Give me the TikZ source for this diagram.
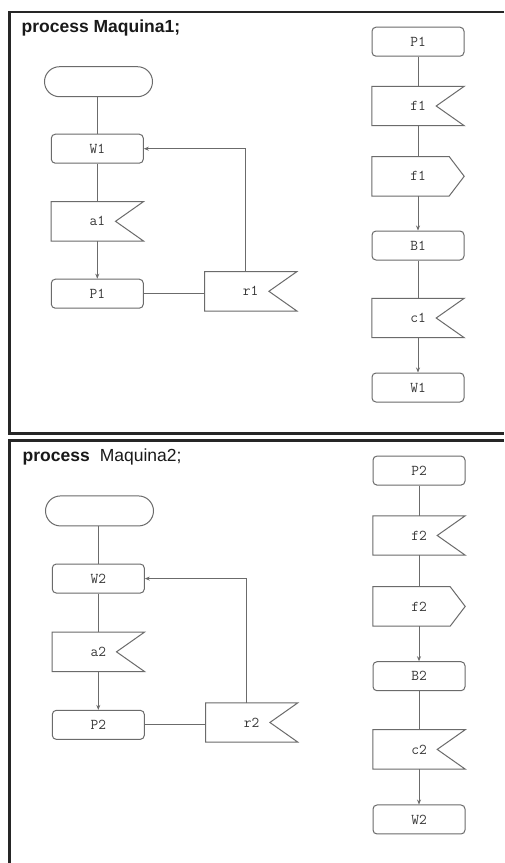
\documentclass[tikz,border=0pt]{standalone}
\usepackage{fontspec}
\setmainfont{Liberation Serif}
\newfontfamily\titlefont{Liberation Sans}
\usetikzlibrary{arrows.meta}

\newcommand\drawin[2][28]{\draw[ln] (#2.north west) -- (#2.north east) -- ([xshift=-#1pt]#2.east) -- (#2.south east) -- (#2.south west) -- cycle;}
\newcommand\drawout[2][15]{\draw[ln] (#2.north west) -- ([xshift=-#1pt]#2.north east) -- (#2.east) -- ([xshift=-#1pt]#2.south east) -- (#2.south west) -- cycle;}

\newcommand\sdlpanel[3]{%
  \node[titletext] (#1title) at (21.5,28) {#3};
  \node[term] (#1start) at (98.5,81.7) {};
  \node[task] (#1W) at (97.3,148.7) {W#2};
  \node[sigbox] (#1a) at (97.3,221.3) {a#2};
  \node[task] (#1P) at (97.3,293.7) {P#2};
  \node[sigbox] (#1r) at (250.7,291.3) {r#2\hspace{27pt}};
  \node[task] (#1Pr) at (418,41.7) {P#2};
  \node[sigbox] (#1fi) at (418,106) {f#2\hspace{14pt}};
  \node[sigbox] (#1fo) at (418,176.3) {f#2\hspace{16pt}};
  \node[task] (#1B) at (418,245.5) {B#2};
  \node[sigbox] (#1c) at (418,318) {c#2};
  \node[task] (#1Wr) at (418,387.5) {W#2};
  \drawin{#1a}\drawin{#1r}\drawin{#1fi}\drawout{#1fo}\drawin{#1c}
  \draw[conn] (#1start.south -| #1W.north) -- (#1W.north);
  \draw[conn] (#1W) -- (#1a);
  \draw[arr] (#1a) -- (#1P);
  \draw[conn] (#1P.east) -- (#1P.east -| #1r.west);
  \draw[arr] ([xshift=-5.7pt]#1r.north) |- (#1W.east);
  \draw[conn] (#1Pr) -- (#1fi);
  \draw[conn] (#1fi) -- (#1fo);
  \draw[arr] (#1fo) -- (#1B);
  \draw[conn] (#1B) -- (#1c);
  \draw[arr] (#1c) -- (#1Wr);
}

\begin{document}
\begin{tikzpicture}[x=1pt,y=-1pt,
  ln/.style={draw=black!58, line width=1pt},
  conn/.style={draw=black!58, line width=1pt},
  arr/.style={conn, -{Stealth[length=5pt,width=4pt]}},
  term/.style={ln, rounded corners=15pt, minimum width=108pt, minimum height=30pt, inner sep=0pt},
  boxtext/.style={font=\ttfamily\fontsize{15}{15}\selectfont, text=black!78},
  task/.style={ln, boxtext, rounded corners=4pt, minimum width=92pt, minimum height=29pt, inner sep=0pt},
  sigbox/.style={boxtext, minimum width=92pt, minimum height=39pt, inner sep=0pt},
  titletext/.style={anchor=west, inner sep=0pt, font=\titlefont\fontsize{17.5}{17.5}\selectfont, text=black!90},
  frame/.style={draw=black!85, line width=2.5pt}]
\useasboundingbox (0,0) rectangle (504,863);
\fill[white] (0,0) rectangle (504,863);
\draw[frame] (504,12) -- (9.5,12) -- (9.5,433.5) -- (504,433.5);
\draw[frame] (504,440.5) -- (9.5,440.5) -- (9.5,863);
\sdlpanel{m1}{1}{\bfseries process Maquina1;}
\begin{scope}[shift={(1,428.5)}, yscale=1.009]
\sdlpanel{m2}{2}{{\bfseries process}\hspace{10pt}Maquina2;}
\end{scope}
\end{tikzpicture}
\end{document}
